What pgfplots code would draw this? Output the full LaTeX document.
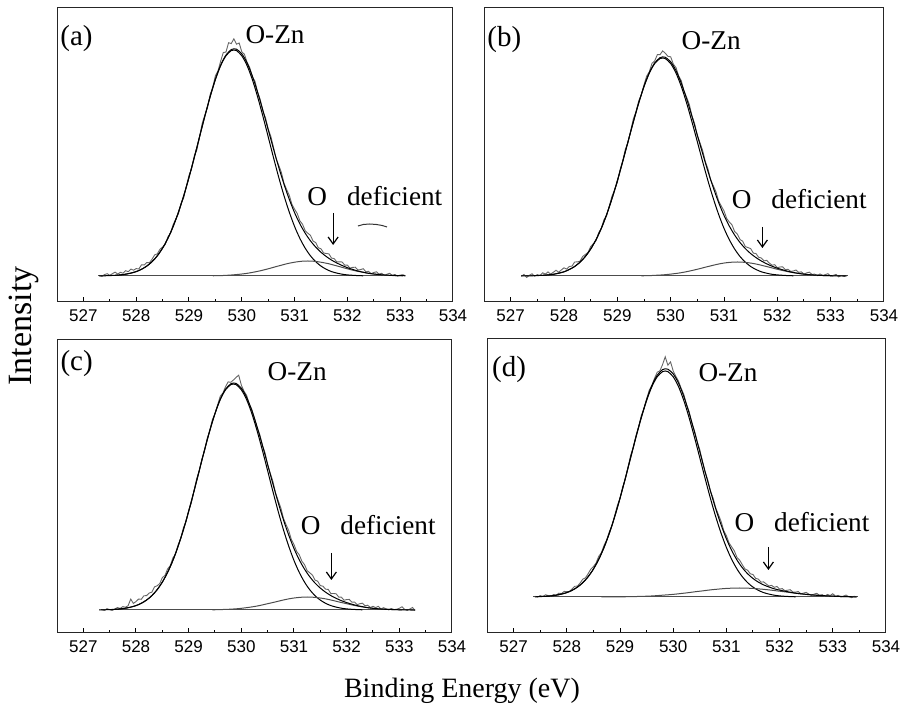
\documentclass[border=0pt]{standalone}
\usepackage{fontspec}
\setmainfont{Liberation Serif}
\newfontfamily\tickfont{Liberation Sans}
\usepackage{pgfplots}
\pgfplotsset{compat=1.18}
\usetikzlibrary{arrows.meta}

\pgfplotsset{
  panel/.style={
    scale only axis, anchor=south west, clip=false,
    xmin=526.5, xmax=534, ymin=0,
    xtick={527,528,...,534}, minor x tick num=1,
    xtick pos=bottom, ytick=\empty,
    tick align=inside, major tick length=2.5pt, minor tick length=1.5pt,
    axis line style={black!85, line width=0.5pt},
    every tick/.style={black, line width=0.5pt},
    xticklabel style={font=\tickfont\fontsize{8.5}{10}\selectfont, yshift=-0.5pt},
    /pgf/number format/assume math mode=true,
    /pgf/number format/1000 sep={},
  },
  raw/.style={black!60, line width=0.45pt},
  fit/.style={black, line width=0.5pt, smooth},
  comp/.style={black!70, line width=0.5pt, smooth},
  base/.style={black!70, line width=0.5pt},
}
\tikzset{
  lbl/.style={font=\fontsize{14.5}{16}\selectfont, anchor=west, inner sep=0pt},
  ann/.style={font=\fontsize{13.6}{15}\selectfont, inner sep=0pt},
  arr/.style={-{Straight Barb[length=3.5pt,width=5pt]}, line width=0.6pt},
}

\begin{document}
\begin{tikzpicture}
\useasboundingbox (0,0) rectangle (450pt,353.5pt);

% ---------------- (a) ----------------
\begin{axis}[panel, at={(28.5pt,202.5pt)}, width=198pt, height=147pt, ymax=294]
\addplot[base] coordinates {(527.28,26) (533.09,26)};
\addplot[raw] coordinates {
(527.30,26.6) (527.35,25.6) (527.40,27.4) (527.45,28.3) (527.50,26.7) (527.55,28.3)
(527.60,29.9) (527.65,27.9) (527.70,29.7) (527.75,28.8) (527.80,31.3) (527.85,30.3)
(527.90,32.9) (527.95,31.8) (528.00,33.4) (528.05,33.0) (528.10,37.2) (528.15,37.0)
(528.20,39.5) (528.25,39.2) (528.30,42.8) (528.35,47.1) (528.40,48.2) (528.45,52.8)
(528.50,54.9) (528.55,57.5) (528.60,65.1) (528.65,68.8) (528.70,77.5) (528.75,82.9)
(528.80,88.3) (528.85,98.7) (528.90,104.2) (528.95,115.7) (529.00,126.6) (529.05,133.4)
(529.10,146.0) (529.15,152.3) (529.20,165.2) (529.25,178.6) (529.30,186.8) (529.35,194.3)
(529.40,207.3) (529.45,214.8) (529.50,226.2) (529.55,231.2) (529.60,240.9) (529.65,249.5)
(529.70,249.9) (529.75,259.3) (529.80,258.4) (529.85,263.2) (529.90,257.8) (529.95,259.0)
(530.00,250.2) (530.05,247.7) (530.10,239.6) (530.15,234.4) (530.20,225.0) (530.25,220.7)
(530.30,209.7) (530.35,202.3) (530.40,190.6) (530.45,184.0) (530.50,172.9) (530.55,165.7)
(530.60,154.7) (530.65,143.3) (530.70,136.7) (530.75,129.5) (530.80,118.7) (530.85,112.4)
(530.90,106.6) (530.95,97.6) (531.00,92.8) (531.05,88.4) (531.10,81.2) (531.15,77.8)
(531.20,71.4) (531.25,68.8) (531.30,66.7) (531.35,60.9) (531.40,59.4) (531.45,54.2)
(531.50,53.2) (531.55,49.0) (531.60,48.5) (531.65,48.1) (531.70,43.9) (531.75,43.4)
(531.80,40.0) (531.85,40.2) (531.90,40.0) (531.95,36.8) (532.00,36.8) (532.05,33.9)
(532.10,34.6) (532.15,34.8) (532.20,32.0) (532.25,32.4) (532.30,33.3) (532.35,30.2)
(532.40,30.7) (532.45,28.3) (532.50,29.5) (532.55,30.2) (532.60,27.9) (532.65,28.7)
(532.70,26.5) (532.75,27.8) (532.80,28.7) (532.85,26.6) (532.90,27.5) (532.95,25.9)
(533.00,26.9) (533.05,27.3) (533.10,26.2)};
\addplot[fit] coordinates {
(527.6,26.7) (527.7,27.1) (527.8,27.8) (527.9,28.9) (528.0,30.4) (528.1,32.7) (528.2,35.9)
(528.3,40.3) (528.4,46.2) (528.5,53.9) (528.6,63.6) (528.7,75.5) (528.8,89.8) (528.9,106.2)
(529.0,124.6) (529.1,144.5) (529.2,165.2) (529.3,185.7) (529.4,205.1) (529.5,222.4)
(529.6,236.4) (529.7,246.2) (529.8,251.4) (529.85,252.0) (529.9,251.4) (530.0,246.2)
(530.1,236.4) (530.2,222.4) (530.3,205.1) (530.4,185.7) (530.5,165.2) (530.6,144.5)
(530.7,124.6) (530.8,106.2) (530.9,89.8) (531.0,75.5) (531.1,63.6) (531.2,53.9) (531.3,46.2)
(531.4,40.3) (531.5,35.9) (531.6,32.7) (531.7,30.4) (531.8,28.9) (531.9,27.8) (532.0,27.1)
(532.1,26.7) (532.2,26.4) (532.3,26.2)};
\addplot[comp] coordinates {
(529.45,26.2) (529.55,26.4) (529.65,26.5) (529.75,26.8) (529.85,27.2) (529.95,27.7)
(530.05,28.3) (530.15,29.1) (530.25,30.1) (530.35,31.2) (530.45,32.5) (530.55,33.9)
(530.65,35.4) (530.75,36.8) (530.85,38.2) (530.95,39.3) (531.05,40.2) (531.15,40.8)
(531.25,41.0) (531.35,40.8) (531.45,40.2) (531.55,39.3) (531.65,38.2) (531.75,36.8)
(531.85,35.4) (531.95,33.9) (532.05,32.5) (532.15,31.2) (532.25,30.1) (532.35,29.1)
(532.45,28.3) (532.55,27.7) (532.65,27.2) (532.75,26.8) (532.85,26.5) (532.95,26.4) (533.05,26.2)};
\addplot[fit] coordinates {
(527.3,26.1) (527.4,26.2) (527.5,26.4) (527.6,26.7) (527.7,27.1) (527.8,27.8) (527.9,28.9)
(528.0,30.4) (528.1,32.7) (528.2,35.9) (528.3,40.3) (528.4,46.2) (528.5,53.9) (528.6,63.6)
(528.7,75.5) (528.8,89.8) (528.9,106.2) (529.0,124.6) (529.1,144.5) (529.2,165.2)
(529.3,185.8) (529.4,205.3) (529.5,222.7) (529.6,236.9) (529.7,246.9) (529.8,252.4)
(529.85,253.2) (529.9,252.8) (530.0,248.2) (530.1,239.1) (530.2,226.0) (530.3,209.7)
(530.4,191.6) (530.5,172.4) (530.6,153.2) (530.7,134.7) (530.8,117.7) (530.9,102.6)
(531.0,89.3) (531.1,78.2) (531.2,68.9) (531.3,61.2) (531.4,54.9) (531.5,49.7) (531.6,45.5)
(531.7,41.9) (531.8,39.0) (531.9,36.5) (532.0,34.3) (532.1,32.6) (532.2,31.0) (532.3,29.8)
(532.4,28.7) (532.5,28.0) (532.6,27.4) (532.7,27.0) (532.8,26.7) (532.9,26.5) (533.0,26.4)
(533.1,26.2)};
\addplot[black!80, line width=0.5pt] coordinates {(532.20,76) (532.30,77.5) (532.42,78) (532.55,77.5) (532.66,76.5) (532.75,75)};
\node[lbl] at (axis cs:526.557,263) {(a)};
\node[ann] at (axis cs:530.63,267) {O-Zn};
\node[ann] at (axis cs:532.52,106) {O\hspace{10pt}deficient};
\draw[arr] (axis cs:531.73,89) -- (axis cs:531.73,57);
\end{axis}

% ---------------- (b) ----------------
\begin{axis}[panel, at={(242pt,202.5pt)}, width=200pt, height=147pt, ymax=294]
\addplot[base] coordinates {(527.2,26) (533.32,26)};
\addplot[raw] coordinates {
(527.20,25.6) (527.25,27.6) (527.30,24.6) (527.35,26.7) (527.40,28.2) (527.45,25.8)
(527.50,27.4) (527.55,26.5) (527.60,29.2) (527.65,27.9) (527.70,30.1) (527.75,27.9)
(527.80,29.7) (527.85,31.7) (527.90,29.8) (527.95,32.0) (528.00,34.2) (528.05,32.8)
(528.10,35.5) (528.15,35.9) (528.20,40.0) (528.25,40.1) (528.30,40.8) (528.35,45.5)
(528.40,47.5) (528.45,49.5) (528.50,55.4) (528.55,58.3) (528.60,61.3) (528.65,69.3)
(528.70,73.7) (528.75,82.4) (528.80,86.5) (528.85,96.2) (528.90,105.9) (528.95,112.0)
(529.00,119.6) (529.05,132.1) (529.10,140.8) (529.15,152.7) (529.20,159.3) (529.25,171.3)
(529.30,183.1) (529.35,190.3) (529.40,201.0) (529.45,207.1) (529.50,217.2) (529.55,225.9)
(529.60,230.3) (529.65,238.7) (529.70,241.0) (529.75,247.3) (529.80,247.3) (529.85,251.1)
(529.90,248.7) (529.95,245.6) (530.00,245.2) (530.05,237.9) (530.10,234.4) (530.15,226.0)
(530.20,221.2) (530.25,210.7) (530.30,204.6) (530.35,197.5) (530.40,186.0) (530.45,178.3)
(530.50,166.0) (530.55,159.1) (530.60,151.4) (530.65,140.4) (530.70,133.0) (530.75,122.1)
(530.80,116.2) (530.85,110.1) (530.90,100.9) (530.95,95.9) (531.00,91.1) (531.05,83.6)
(531.10,79.9) (531.15,77.1) (531.20,70.4) (531.25,68.0) (531.30,62.5) (531.35,60.8)
(531.40,55.4) (531.45,54.4) (531.50,53.4) (531.55,48.9) (531.60,48.4) (531.65,44.7)
(531.70,44.0) (531.75,41.1) (531.80,41.7) (531.85,39.0) (531.90,36.8) (531.95,37.3)
(532.00,34.3) (532.05,35.0) (532.10,35.2) (532.15,32.4) (532.20,32.7) (532.25,30.6)
(532.30,31.0) (532.35,32.0) (532.40,29.6) (532.45,30.2) (532.50,27.8) (532.55,29.1)
(532.60,29.8) (532.65,27.6) (532.70,27.9) (532.75,26.3) (532.80,28.1) (532.85,26.5)
(532.90,27.4) (532.95,28.3) (533.00,25.8) (533.05,26.7) (533.10,27.6) (533.15,25.1)
(533.20,26.5) (533.25,25.5) (533.30,26.5)};
\addplot[fit] coordinates {
(527.6,26.7) (527.7,27.1) (527.8,27.7) (527.9,28.8) (528.0,30.2) (528.1,32.5) (528.2,35.5)
(528.3,39.8) (528.4,45.5) (528.5,52.9) (528.6,62.3) (528.7,73.7) (528.8,87.5) (528.9,103.4)
(529.0,121.1) (529.1,140.3) (529.2,160.3) (529.3,180.0) (529.4,198.8) (529.5,215.4)
(529.6,228.9) (529.7,238.4) (529.8,243.4) (529.85,244.0) (529.9,243.4) (530.0,238.4)
(530.1,228.9) (530.2,215.4) (530.3,198.8) (530.4,180.0) (530.5,160.3) (530.6,140.3)
(530.7,121.1) (530.8,103.4) (530.9,87.5) (531.0,73.7) (531.1,62.3) (531.2,52.9) (531.3,45.5)
(531.4,39.8) (531.5,35.5) (531.6,32.5) (531.7,30.2) (531.8,28.8) (531.9,27.7) (532.0,27.1)
(532.1,26.7) (532.2,26.4) (532.3,26.2)};
\addplot[comp] coordinates {
(529.45,26.2) (529.55,26.3) (529.65,26.5) (529.75,26.8) (529.85,27.1) (529.95,27.6)
(530.05,28.2) (530.15,28.9) (530.25,29.8) (530.35,30.9) (530.45,32.1) (530.55,33.4)
(530.65,34.8) (530.75,36.1) (530.85,37.4) (530.95,38.5) (531.05,39.3) (531.15,39.8)
(531.25,40.0) (531.35,39.8) (531.45,39.3) (531.55,38.5) (531.65,37.4) (531.75,36.1)
(531.85,34.8) (531.95,33.4) (532.05,32.1) (532.15,30.9) (532.25,29.8) (532.35,28.9)
(532.45,28.2) (532.55,27.6) (532.65,27.1) (532.75,26.8) (532.85,26.5) (532.95,26.3) (533.05,26.2)};
\addplot[fit] coordinates {
(527.2,26.1) (527.3,26.1) (527.4,26.2) (527.5,26.4) (527.6,26.7) (527.7,27.1) (527.8,27.7)
(527.9,28.8) (528.0,30.2) (528.1,32.5) (528.2,35.5) (528.3,39.8) (528.4,45.5) (528.5,52.9)
(528.6,62.3) (528.7,73.7) (528.8,87.5) (528.9,103.4) (529.0,121.1) (529.1,140.3)
(529.2,160.3) (529.3,180.1) (529.4,199.0) (529.5,215.7) (529.6,229.3) (529.7,239.0)
(529.8,244.3) (529.85,245.1) (529.9,244.7) (530.0,240.2) (530.1,231.4) (530.2,218.7)
(530.3,203.1) (530.4,185.5) (530.5,167.0) (530.6,148.4) (530.7,130.5) (530.8,114.2)
(530.9,99.4) (531.0,86.6) (531.1,75.9) (531.2,66.9) (531.3,59.5) (531.4,53.4) (531.5,48.4)
(531.6,44.4) (531.7,41.0) (531.8,38.2) (531.9,35.8) (532.0,33.8) (532.1,32.2) (532.2,30.7)
(532.3,29.5) (532.4,28.6) (532.5,27.8) (532.6,27.3) (532.7,26.9) (532.8,26.6) (532.9,26.4)
(533.0,26.3) (533.1,26.1) (533.2,26.0) (533.3,26.0)};
\node[lbl] at (axis cs:526.556,262) {(b)};
\node[ann] at (axis cs:530.76,261) {O-Zn};
\node[ann] at (axis cs:532.41,103) {O\hspace{10pt}deficient};
\draw[arr] (axis cs:531.72,75) -- (axis cs:531.72,54);
\end{axis}

% ---------------- (c) ----------------
\begin{axis}[panel, at={(28.5pt,37pt)}, width=197.5pt, height=146.5pt, ymax=293]
\addplot[base] coordinates {(527.33,23) (533.3,23)};
\addplot[raw] coordinates {
(527.35,23.2) (527.40,22.7) (527.45,24.3) (527.50,23.4) (527.55,22.5) (527.60,24.2)
(527.65,25.4) (527.70,24.6) (527.75,26.4) (527.80,25.8) (527.85,27.3) (527.90,33.9)
(527.95,29.6) (528.00,31.4) (528.05,34.0) (528.10,33.7) (528.15,37.2) (528.20,37.4)
(528.25,40.0) (528.30,40.8) (528.35,46.1) (528.40,47.2) (528.45,49.3) (528.50,55.4)
(528.55,57.5) (528.60,64.1) (528.65,67.3) (528.70,75.0) (528.75,78.9) (528.80,88.3)
(528.85,94.7) (528.90,105.2) (528.95,111.2) (529.00,122.6) (529.05,129.9) (529.10,142.0)
(529.15,153.8) (529.20,161.7) (529.25,173.6) (529.30,181.8) (529.35,194.2) (529.40,202.3)
(529.45,213.3) (529.50,219.1) (529.55,228.1) (529.60,236.8) (529.65,239.9) (529.70,246.3)
(529.75,251.1) (529.80,250.7) (529.85,253.0) (529.90,255.6) (529.95,257.8) (530.00,247.9)
(530.05,241.9) (530.10,237.7) (530.15,229.0) (530.20,223.5) (530.25,214.6) (530.30,205.1)
(530.35,198.6) (530.40,187.8) (530.45,180.2) (530.50,168.0) (530.55,159.7) (530.60,151.5)
(530.65,140.0) (530.70,132.4) (530.75,125.1) (530.80,114.7) (530.85,108.3) (530.90,102.4)
(530.95,93.5) (531.00,88.5) (531.05,81.6) (531.10,78.2) (531.15,71.8) (531.20,68.4)
(531.25,62.3) (531.30,60.2) (531.35,57.9) (531.40,52.9) (531.45,51.8) (531.50,47.4)
(531.55,46.8) (531.60,43.8) (531.65,43.6) (531.70,39.4) (531.75,39.5) (531.80,39.2)
(531.85,35.9) (531.90,35.8) (531.95,32.8) (532.00,33.4) (532.05,33.6) (532.10,30.8)
(532.15,31.0) (532.20,28.4) (532.25,29.3) (532.30,29.8) (532.35,27.2) (532.40,27.8)
(532.45,25.5) (532.50,26.7) (532.55,25.4) (532.60,26.7) (532.65,24.0) (532.70,25.3)
(532.75,24.2) (532.80,23.1) (532.85,24.5) (532.90,23.4) (532.95,23.8) (533.00,24.7)
(533.05,26.2) (533.10,23.6) (533.15,22.6) (533.20,24.0) (533.25,25.5) (533.30,22.5)};
\addplot[fit] coordinates {
(527.6,23.7) (527.7,24.1) (527.8,24.8) (527.9,25.9) (528.0,27.4) (528.1,29.7) (528.2,32.9)
(528.3,37.3) (528.4,43.2) (528.5,50.9) (528.6,60.6) (528.7,72.5) (528.8,86.8) (528.9,103.2)
(529.0,121.6) (529.1,141.5) (529.2,162.2) (529.3,182.7) (529.4,202.1) (529.5,219.4)
(529.6,233.4) (529.7,243.2) (529.8,248.4) (529.85,249.0) (529.9,248.4) (530.0,243.2)
(530.1,233.4) (530.2,219.4) (530.3,202.1) (530.4,182.7) (530.5,162.2) (530.6,141.5)
(530.7,121.6) (530.8,103.2) (530.9,86.8) (531.0,72.5) (531.1,60.6) (531.2,50.9) (531.3,43.2)
(531.4,37.3) (531.5,32.9) (531.6,29.7) (531.7,27.4) (531.8,25.9) (531.9,24.8) (532.0,24.1)
(532.1,23.7) (532.2,23.4) (532.3,23.2)};
\addplot[comp] coordinates {
(529.45,23.2) (529.55,23.3) (529.65,23.5) (529.75,23.7) (529.85,24.0) (529.95,24.4)
(530.05,25.0) (530.15,25.7) (530.25,26.5) (530.35,27.5) (530.45,28.7) (530.55,29.9)
(530.65,31.1) (530.75,32.4) (530.85,33.6) (530.95,34.6) (531.05,35.3) (531.15,35.8)
(531.25,36.0) (531.35,35.8) (531.45,35.3) (531.55,34.6) (531.65,33.6) (531.75,32.4)
(531.85,31.1) (531.95,29.9) (532.05,28.7) (532.15,27.5) (532.25,26.5) (532.35,25.7)
(532.45,25.0) (532.55,24.4) (532.65,24.0) (532.75,23.7) (532.85,23.5) (532.95,23.3) (533.05,23.2)};
\addplot[fit] coordinates {
(527.3,23.1) (527.4,23.2) (527.5,23.4) (527.6,23.7) (527.7,24.1) (527.8,24.8) (527.9,25.9)
(528.0,27.4) (528.1,29.7) (528.2,32.9) (528.3,37.3) (528.4,43.2) (528.5,50.9) (528.6,60.6)
(528.7,72.5) (528.8,86.8) (528.9,103.2) (529.0,121.6) (529.1,141.5) (529.2,162.2)
(529.3,182.8) (529.4,202.3) (529.5,219.6) (529.6,233.8) (529.7,243.8) (529.8,249.2)
(529.85,250.0) (529.9,249.6) (530.0,244.9) (530.1,235.7) (530.2,222.5) (530.3,206.1)
(530.4,187.8) (530.5,168.5) (530.6,149.0) (530.7,130.4) (530.8,113.2) (530.9,97.9)
(531.0,84.5) (531.1,73.2) (531.2,63.9) (531.3,56.2) (531.4,49.9) (531.5,44.9) (531.6,40.8)
(531.7,37.4) (531.8,34.7) (531.9,32.3) (532.0,30.4) (532.1,28.8) (532.2,27.4) (532.3,26.3)
(532.4,25.3) (532.5,24.7) (532.6,24.2) (532.7,23.8) (532.8,23.6) (532.9,23.4) (533.0,23.2)
(533.1,23.1) (533.2,23.0) (533.3,23.0)};
\node[lbl] at (axis cs:526.56,269) {(c)};
\node[ann] at (axis cs:531.06,261) {O-Zn};
\node[ann] at (axis cs:532.41,108) {O\hspace{10pt}deficient};
\draw[arr] (axis cs:531.71,80) -- (axis cs:531.71,53);
\end{axis}

% ---------------- (d) ----------------
\begin{axis}[panel, at={(243.5pt,37pt)}, width=199.5pt, height=147pt, ymax=294]
\addplot[base] coordinates {(527.37,36) (533.47,36)};
\addplot[raw] coordinates {
(527.40,36.7) (527.45,35.8) (527.50,37.4) (527.55,36.5) (527.60,38.2) (527.65,37.4)
(527.70,36.6) (527.75,38.4) (527.80,37.8) (527.85,39.8) (527.90,39.4) (527.95,41.6)
(528.00,41.4) (528.05,41.5) (528.10,44.2) (528.15,46.7) (528.20,46.9) (528.25,50.0)
(528.30,53.8) (528.35,55.1) (528.40,59.2) (528.45,63.8) (528.50,66.4) (528.55,70.0)
(528.60,76.6) (528.65,80.4) (528.70,87.6) (528.75,93.0) (528.80,101.4) (528.85,107.3)
(528.90,117.4) (528.95,127.4) (529.00,134.8) (529.05,146.1) (529.10,153.8) (529.15,165.6)
(529.20,177.6) (529.25,185.4) (529.30,197.2) (529.35,206.2) (529.40,217.3) (529.45,223.9)
(529.50,233.8) (529.55,242.9) (529.60,247.6) (529.65,254.8) (529.70,260.8) (529.75,262.2)
(529.80,268.4) (529.85,276.2) (529.90,267.8) (529.95,271.1) (530.00,262.1) (530.05,256.6)
(530.10,251.9) (530.15,244.6) (530.20,238.5) (530.25,228.5) (530.30,221.4) (530.35,209.7)
(530.40,202.2) (530.45,191.3) (530.50,183.3) (530.55,171.7) (530.60,160.8) (530.65,153.0)
(530.70,142.0) (530.75,134.9) (530.80,125.1) (530.85,118.4) (530.90,111.7) (530.95,102.5)
(531.00,97.2) (531.05,90.1) (531.10,86.0) (531.15,82.0) (531.20,75.4) (531.25,72.8)
(531.30,68.2) (531.35,64.0) (531.40,62.7) (531.45,59.2) (531.50,58.5) (531.55,54.6)
(531.60,53.9) (531.65,50.9) (531.70,51.1) (531.75,49.0) (531.80,47.0) (531.85,47.6)
(531.90,45.7) (531.95,46.5) (532.00,43.9) (532.05,44.4) (532.10,42.3) (532.15,42.8)
(532.20,43.3) (532.25,40.9) (532.30,40.8) (532.35,41.5) (532.40,39.2) (532.45,39.9)
(532.50,40.6) (532.55,38.9) (532.60,37.6) (532.65,38.9) (532.70,39.7) (532.75,37.6)
(532.80,38.4) (532.85,36.7) (532.90,38.6) (532.95,37.4) (533.00,39.3) (533.05,36.7)
(533.10,37.6) (533.15,36.0) (533.20,36.9) (533.25,37.9) (533.30,36.3) (533.35,35.3)
(533.40,36.7) (533.45,36.2)};
\addplot[fit] coordinates {
(527.6,36.7) (527.7,37.1) (527.8,37.8) (527.9,38.9) (528.0,40.4) (528.1,42.7) (528.2,45.9)
(528.3,50.3) (528.4,56.2) (528.5,63.9) (528.6,73.6) (528.7,85.5) (528.8,99.8) (528.9,116.2)
(529.0,134.6) (529.1,154.5) (529.2,175.2) (529.3,195.7) (529.4,215.1) (529.5,232.4)
(529.6,246.4) (529.7,256.2) (529.8,261.4) (529.85,262.0) (529.9,261.4) (530.0,256.2)
(530.1,246.4) (530.2,232.4) (530.3,215.1) (530.4,195.7) (530.5,175.2) (530.6,154.5)
(530.7,134.6) (530.8,116.2) (530.9,99.8) (531.0,85.5) (531.1,73.6) (531.2,63.9) (531.3,56.2)
(531.4,50.3) (531.5,45.9) (531.6,42.7) (531.7,40.4) (531.8,38.9) (531.9,37.8) (532.0,37.1)
(532.1,36.7) (532.2,36.4) (532.3,36.2)};
\addplot[comp] coordinates {
(528.65,36.1) (528.85,36.1) (529.05,36.2) (529.25,36.4) (529.45,36.7) (529.55,36.9)
(529.65,37.2) (529.75,37.6) (529.85,38.0) (529.95,38.4) (530.05,38.9) (530.15,39.5)
(530.25,40.1) (530.35,40.8) (530.45,41.5) (530.55,42.1) (530.65,42.8) (530.75,43.4)
(530.85,43.9) (530.95,44.4) (531.05,44.7) (531.15,44.9) (531.25,45.0) (531.35,44.9)
(531.45,44.7) (531.55,44.4) (531.65,43.9) (531.75,43.4) (531.85,42.8) (531.95,42.1)
(532.05,41.5) (532.15,40.8) (532.25,40.1) (532.35,39.5) (532.45,38.9) (532.55,38.4)
(532.65,38.0) (532.75,37.6) (532.85,37.2) (532.95,36.9) (533.05,36.7) (533.25,36.4) (533.45,36.2)};
\addplot[fit] coordinates {
(527.4,36.2) (527.5,36.4) (527.6,36.7) (527.7,37.1) (527.8,37.8) (527.9,38.9) (528.0,40.4)
(528.1,42.7) (528.2,45.9) (528.3,50.3) (528.4,56.2) (528.5,63.9) (528.6,73.6) (528.7,85.6)
(528.8,99.9) (528.9,116.4) (529.0,134.8) (529.1,154.8) (529.2,175.6) (529.3,196.2)
(529.4,215.8) (529.5,233.3) (529.6,247.6) (529.7,257.8) (529.8,263.4) (529.85,264.2)
(529.9,263.8) (530.0,259.1) (530.1,249.9) (530.2,236.5) (530.3,219.9) (530.4,201.2)
(530.5,181.3) (530.6,161.3) (530.7,142.0) (530.8,124.1) (530.9,108.2) (531.0,94.2)
(531.1,82.5) (531.2,72.9) (531.3,65.2) (531.4,59.2) (531.5,54.5) (531.6,50.9) (531.7,48.1)
(531.8,46.0) (531.9,44.2) (532.0,42.9) (532.1,41.8) (532.2,40.8) (532.3,39.8) (532.4,39.2)
(532.5,38.6) (532.6,38.1) (532.7,37.7) (532.8,37.4) (532.9,37.1) (533.0,36.8) (533.1,36.6)
(533.2,36.4) (533.3,36.3) (533.4,36.2) (533.45,36.2)};
\node[lbl] at (axis cs:526.59,263) {(d)};
\node[ann] at (axis cs:531.03,260) {O-Zn};
\node[ann] at (axis cs:532.42,111) {O\hspace{10pt}deficient};
\draw[arr] (axis cs:531.79,86) -- (axis cs:531.79,63);
\end{axis}

\node[rotate=90, anchor=base, font=\fontsize{17}{19}\selectfont] at (15.85pt,190.5pt) {Intensity};
\node[anchor=base, font=\fontsize{14}{16}\selectfont] at (231pt,5pt) {Binding Energy (eV)};
\end{tikzpicture}
\end{document}
